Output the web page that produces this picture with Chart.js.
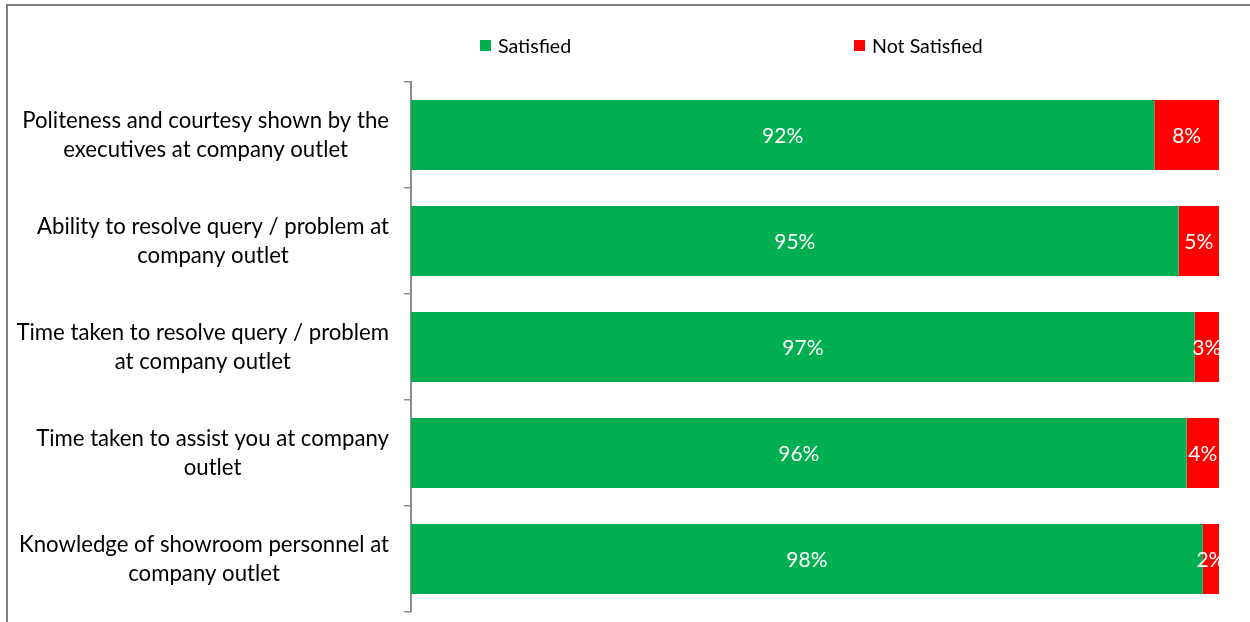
<!DOCTYPE html>
<html>
<head>
<meta charset="utf-8">
<script src="https://cdn.jsdelivr.net/npm/chart.js@4/dist/chart.umd.min.js"></script>
<style>
  html, body { margin: 0; padding: 0; background: #ffffff; }
  #wrap { position: relative; width: 1250px; height: 622px; }
</style>
</head>
<body>
<div id="wrap"><canvas id="chart" width="1250" height="622"></canvas></div>
<script>
// Outlet experience ratings, share of respondents (%)
const categories = [
  ["Politeness and courtesy shown by the", "executives at company outlet"],
  ["Ability to resolve query / problem at", "company outlet"],
  ["Time taken to resolve query / problem", "at company outlet"],
  ["Time taken to assist you at company", "outlet"],
  ["Knowledge of showroom personnel at", "company outlet"]
];
const satisfied = [92, 95, 97, 96, 98];
const notSatisfied = [8, 5, 3, 4, 2];
const seriesNames = ["Satisfied", "Not Satisfied"];
const seriesColors = ["#00B050", "#FF0000"];

const FONT = "Lato, 'Open Sans', sans-serif";
const AXIS_GREY = "#8c8c8c";

// Frame line along the top and left edge of the panel
const framePlugin = {
  id: "frame",
  beforeDraw(chart) {
    const ctx = chart.ctx;
    ctx.save();
    ctx.strokeStyle = "#808080";
    ctx.lineWidth = 2;
    ctx.beginPath();
    ctx.moveTo(7, chart.height);
    ctx.lineTo(7, 5);
    ctx.lineTo(chart.width, 5);
    ctx.stroke();
    ctx.restore();
  }
};

// Category labels: each block right-aligned against the axis, lines centred within it
const categoryLabelPlugin = {
  id: "categoryLabels",
  afterDraw(chart) {
    const ctx = chart.ctx;
    const yScale = chart.scales.y;
    const rightEdge = yScale.right - 22;
    const lineH = 29;
    ctx.save();
    ctx.font = "22.2px " + FONT;
    ctx.fillStyle = "#000000";
    ctx.textAlign = "center";
    ctx.textBaseline = "middle";
    categories.forEach((lines, i) => {
      const yc = yScale.getPixelForValue(i);
      const w = Math.max(...lines.map(l => ctx.measureText(l).width));
      const xc = rightEdge - w / 2;
      const top = yc - (lines.length - 1) * lineH / 2;
      lines.forEach((l, k) => ctx.fillText(l, xc, top + k * lineH));
    });
    ctx.restore();
  }
};

// Percentage labels centred in each bar segment
const valueLabelPlugin = {
  id: "valueLabels",
  afterDatasetsDraw(chart) {
    const ctx = chart.ctx;
    ctx.save();
    ctx.font = "21px " + FONT;
    ctx.fillStyle = "#ffffff";
    ctx.textAlign = "center";
    ctx.textBaseline = "middle";
    chart.data.datasets.forEach((ds, di) => {
      chart.getDatasetMeta(di).data.forEach((bar, i) => {
        const p = bar.getProps(["x", "y", "base"], true);
        ctx.fillText(ds.data[i] + "%", (p.x + p.base) / 2, p.y + 1);
      });
    });
    ctx.restore();
  }
};

// Legend drawn across the top of the plot
const legendPlugin = {
  id: "topLegend",
  afterDraw(chart) {
    const ctx = chart.ctx;
    const positions = [480, 854];
    const yc = 45.5;
    ctx.save();
    ctx.font = "19.6px " + FONT;
    ctx.textBaseline = "middle";
    ctx.textAlign = "left";
    chart.data.datasets.forEach((ds, i) => {
      const x = positions[i];
      ctx.fillStyle = ds.backgroundColor;
      ctx.fillRect(x, yc - 5.5, 11, 11);
      ctx.fillStyle = "#000000";
      ctx.fillText(ds.label, x + 18, yc + 1);
    });
    ctx.restore();
  }
};

new Chart(document.getElementById("chart"), {
  type: "bar",
  data: {
    labels: categories,
    datasets: [
      { label: seriesNames[0], data: satisfied, backgroundColor: seriesColors[0] },
      { label: seriesNames[1], data: notSatisfied, backgroundColor: seriesColors[1] }
    ]
  },
  options: {
    indexAxis: "y",
    responsive: false,
    animation: false,
    devicePixelRatio: 1,
    layout: { padding: { top: 82, right: 31, bottom: 10, left: 0 } },
    datasets: { bar: { categoryPercentage: 1, barPercentage: 0.66 } },
    scales: {
      x: { stacked: true, min: 0, max: 100, display: false },
      y: {
        stacked: true,
        ticks: { display: false },
        grid: {
          offset: true,
          drawOnChartArea: false,
          drawTicks: true,
          tickLength: 7,
          color: AXIS_GREY,
          lineWidth: 1.5
        },
        border: { display: true, color: AXIS_GREY, width: 2 },
        afterFit(scale) { scale.width = 411; }
      }
    },
    plugins: {
      legend: { display: false },
      tooltip: { enabled: false },
      title: { display: false }
    }
  },
  plugins: [framePlugin, categoryLabelPlugin, valueLabelPlugin, legendPlugin]
});
</script>
</body>
</html>
